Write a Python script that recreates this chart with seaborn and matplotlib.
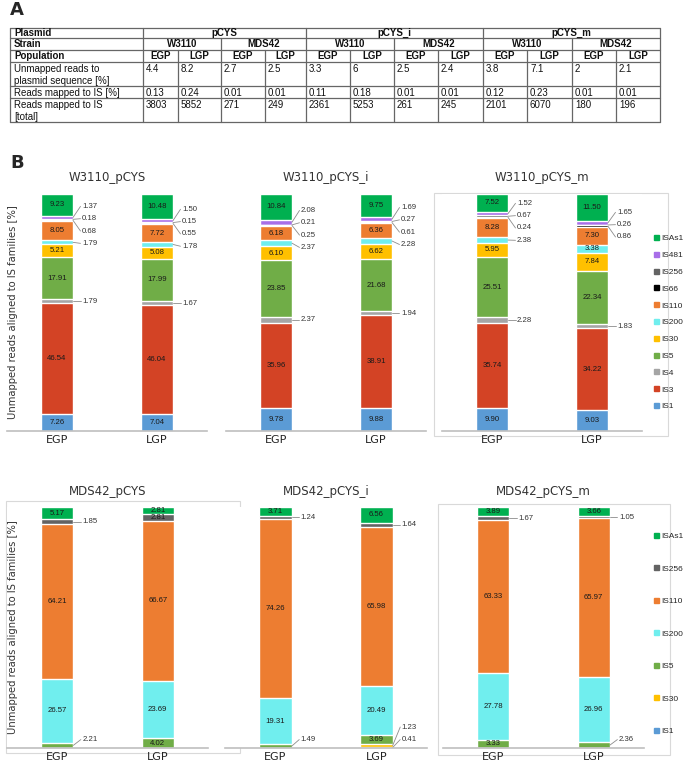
import numpy as np
import pandas as pd
import matplotlib
matplotlib.use('Agg')
import matplotlib.pyplot as plt
import seaborn as sns
from matplotlib.patches import Patch, Rectangle

# ---- Table (panel A) ----
plasmids = ['pCYS', 'pCYS_i', 'pCYS_m']
strains = ['W3110', 'MDS42']
populations = ['EGP', 'LGP']
row_names = ['Unmapped reads to\nplasmid sequence [%]', 'Reads mapped to IS [%]', 'Reads mapped to IS\n[total]']
unmapped_pct = [4.4, 8.2, 2.7, 2.5, 3.3, 6, 2.5, 2.4, 3.8, 7.1, 2, 2.1]
is_pct = [0.13, 0.24, 0.01, 0.01, 0.11, 0.18, 0.01, 0.01, 0.12, 0.23, 0.01, 0.01]
is_total = [3803, 5852, 271, 249, 2361, 5253, 261, 245, 2101, 6070, 180, 196]

# ---- Stacked bars (panel B), bottom -> top ----
w3110_families = ['IS1', 'IS3', 'IS4', 'IS5', 'IS30', 'IS200', 'IS110', 'IS66', 'IS256', 'IS481', 'ISAs1']
w3110_pcys_egp = [7.26, 46.54, 1.79, 17.91, 5.21, 1.79, 8.05, 0.68, 0.18, 1.37, 9.23]
w3110_pcys_lgp = [7.04, 46.04, 1.67, 17.99, 5.08, 1.78, 7.72, 0.55, 0.15, 1.50, 10.48]
w3110_pcys_i_egp = [9.78, 35.96, 2.37, 23.85, 6.10, 2.37, 6.18, 0.25, 0.21, 2.08, 10.84]
w3110_pcys_i_lgp = [9.88, 38.91, 1.94, 21.68, 6.62, 2.28, 6.36, 0.61, 0.27, 1.69, 9.75]
w3110_pcys_m_egp = [9.90, 35.74, 2.28, 25.51, 5.95, 2.38, 8.28, 0.24, 0.67, 1.52, 7.52]
w3110_pcys_m_lgp = [9.03, 34.22, 1.83, 22.34, 7.84, 3.38, 7.30, 0.86, 0.26, 1.65, 11.50]

mds42_families = ['IS1', 'IS30', 'IS5', 'IS200', 'IS110', 'IS256', 'ISAs1']
mds42_pcys_egp = [0, 0, 2.21, 26.57, 64.21, 1.85, 5.17]
mds42_pcys_lgp = [0, 0, 4.02, 23.69, 66.67, 2.81, 2.81]
mds42_pcys_i_egp = [0, 0, 1.49, 19.31, 74.26, 1.24, 3.71]
mds42_pcys_i_lgp = [0.41, 1.23, 3.69, 20.49, 65.98, 1.64, 6.56]
mds42_pcys_m_egp = [0, 0, 3.33, 27.78, 63.33, 1.67, 3.89]
mds42_pcys_m_lgp = [0, 0, 2.36, 26.96, 65.97, 1.05, 3.66]

palette = {'IS1': '#5B9BD5', 'IS3': '#D34325', 'IS4': '#A5A5A5', 'IS5': '#70AD47',
           'IS30': '#FFC000', 'IS200': '#70EEEE', 'IS110': '#ED7D31', 'IS66': '#000000',
           'IS256': '#636363', 'IS481': '#A86EE8', 'ISAs1': '#00B050'}

sns.set_style('white')
plt.rcParams['font.family'] = ['DejaVu Sans']
NUM_FONT = 'Liberation Sans'

W, H = 685, 765
fig = plt.figure(figsize=(W / 100, H / 100), dpi=100)

# overlay axes in pixel coordinates for table, panel letters and chart-area boxes
ov = fig.add_axes([0, 0, 1, 1])
ov.set_xlim(0, W)
ov.set_ylim(H, 0)
ov.axis('off')

ov.text(10, 10, 'A', fontsize=13, fontweight='bold', va='center', ha='left')
ov.text(10, 163, 'B', fontsize=13, fontweight='bold', va='center', ha='left')

col_x = [10, 143, 178, 221, 265, 306, 350, 394, 438, 483, 527, 572, 616, 660]
row_y = [28, 38, 50, 62, 86, 98, 122]
lc = '#666666'
for y in row_y:
    ov.plot([col_x[0], col_x[-1]], [y, y], color=lc, lw=0.9)
for i, x in enumerate(col_x):
    k = i - 1
    if i in (0, 1, len(col_x) - 1) or (k > 0 and k % 4 == 0):
        y0 = row_y[0]
    elif k % 2 == 0:
        y0 = row_y[1]
    else:
        y0 = row_y[2]
    ov.plot([x, x], [y0, row_y[-1]], color=lc, lw=0.9)

tkw = dict(fontsize=7, family=NUM_FONT, color='#111111')
for r, lab in enumerate(['Plasmid', 'Strain', 'Population']):
    ov.text(col_x[0] + 4, (row_y[r] + row_y[r + 1]) / 2, lab, va='center', fontweight='bold', **tkw)
for p, name in enumerate(plasmids):
    ov.text((col_x[1 + 4 * p] + col_x[5 + 4 * p]) / 2, (row_y[0] + row_y[1]) / 2, name,
            ha='center', va='center', fontweight='bold', **tkw)
    for s, st in enumerate(strains):
        c0 = 1 + 4 * p + 2 * s
        ov.text((col_x[c0] + col_x[c0 + 2]) / 2, (row_y[1] + row_y[2]) / 2, st,
                ha='center', va='center', fontweight='bold', **tkw)
        for q, pop in enumerate(populations):
            c = c0 + q
            ov.text((col_x[c] + col_x[c + 1]) / 2, (row_y[2] + row_y[3]) / 2, pop,
                    ha='center', va='center', fontweight='bold', **tkw)
for r, (lab, vals) in enumerate(zip(row_names, [unmapped_pct, is_pct, is_total])):
    top = row_y[3 + r] + 1.5
    ov.text(col_x[0] + 4, top, lab, va='top', linespacing=1.25, **tkw)
    for c, v in enumerate(vals):
        ov.text(col_x[c + 1] + 3, top, f'{v:g}', va='top', **tkw)

# faint chart-area borders
for (x0, y0, x1, y1) in [(434, 193, 668, 436), (6, 501, 240, 753), (438, 504, 670, 755)]:
    ov.add_patch(Rectangle((x0, y0), x1 - x0, y1 - y0, fill=False, ec='#D9D9D9', lw=0.8))


def px_axes(x0, y0, x1, y1):
    return fig.add_axes([x0 / W, 1 - y1 / H, (x1 - x0) / W, (y1 - y0) / H])


def spread(targets, gap=5.2, lo=3.5, hi=97.5):
    pos = list(targets)
    for _ in range(300):
        for i in range(len(pos) - 1):
            d = pos[i + 1] - pos[i]
            if d < gap:
                pos[i] -= (gap - d) / 2
                pos[i + 1] += (gap - d) / 2
        pos[0] = max(pos[0], lo)
        pos[-1] = min(pos[-1], hi)
    return pos


def draw_panel(ax, title, families, egp, lgp):
    df = pd.DataFrame({'EGP': egp, 'LGP': lgp}, index=families)
    cum = df.cumsum()
    # stacked bars: draw cumulative totals from the top layer down
    for fam in reversed(families):
        sns.barplot(x=populations, y=cum.loc[fam].values, color=palette[fam], width=0.32,
                    saturation=1, errorbar=None, ax=ax)
    half = 0.16
    for j, pop in enumerate(populations):
        vals = df[pop].values
        mids = (cum[pop].values - vals / 2)
        outside = []
        for v, m in zip(vals, mids):
            if v >= 2.5:
                ax.text(j, m, f'{v:.2f}', ha='center', va='center', fontsize=5.6,
                        family=NUM_FONT, color='#1A1A1A')
            elif v > 0:
                outside.append((m, v))
        outside.sort()
        if outside:
            ys = spread([m for m, _ in outside])
            for (m, v), ly in zip(outside, ys):
                xt = j + half + 0.09
                ax.plot([j + half, xt - 0.015], [m, ly], color='#8C8C8C', lw=0.6, clip_on=False)
                ax.text(xt, ly, f'{v:.2f}', ha='left', va='center', fontsize=5.6,
                        family=NUM_FONT, color='#333333', clip_on=False)
    ax.set_xlim(-0.5, 1.5)
    ax.set_ylim(0, 100)
    ax.set_yticks([])
    ax.set_xlabel('')
    ax.set_ylabel('')
    for s in ['top', 'left', 'right']:
        ax.spines[s].set_visible(False)
    ax.spines['bottom'].set_color('#BFBFBF')
    ax.spines['bottom'].set_linewidth(1.2)
    ax.tick_params(axis='x', length=0, pad=3, labelsize=8, labelcolor='#222222')
    ax.set_title(title, fontsize=8.5, pad=9, color='#333333')


top_panels = [('W3110_pCYS', w3110_pcys_egp, w3110_pcys_lgp),
              ('W3110_pCYS_i', w3110_pcys_i_egp, w3110_pcys_i_lgp),
              ('W3110_pCYS_m', w3110_pcys_m_egp, w3110_pcys_m_lgp)]
bottom_panels = [('MDS42_pCYS', mds42_pcys_egp, mds42_pcys_lgp),
                 ('MDS42_pCYS_i', mds42_pcys_i_egp, mds42_pcys_i_lgp),
                 ('MDS42_pCYS_m', mds42_pcys_m_egp, mds42_pcys_m_lgp)]
top_x = [(7, 207), (226, 426), (442, 642)]
bottom_x = [(7, 208), (225, 427), (443, 644)]

for row, (panels, xs, (yt, yb), fams) in enumerate([
        (top_panels, top_x, (194, 431), w3110_families),
        (bottom_panels, bottom_x, (507, 748), mds42_families)]):
    for i, ((title, egp, lgp), (x0, x1)) in enumerate(zip(panels, xs)):
        ax = px_axes(x0, yt, x1, yb)
        ax.set_facecolor('white')
        draw_panel(ax, title, fams, egp, lgp)
        if i == 0:
            ax.set_ylabel('Unmapped reads aligned to IS families [%]', fontsize=7.2, color='#333333')
            ax.yaxis.set_label_coords((18 - x0) / (x1 - x0), 0.5)

    handles = [Patch(color=palette[f], label=f) for f in reversed(fams)]
    leg_top = 235 if row == 0 else 533
    fig.legend(handles=handles, loc='upper left', bbox_to_anchor=(654 / W, 1 - leg_top / H),
               frameon=False, prop={'family': NUM_FONT, 'size': 6}, handlelength=0.55,
               handleheight=0.55, handletextpad=0.3, borderpad=0, borderaxespad=0,
               labelspacing=1.12 if row == 0 else 3.0)

fig.savefig('out.png', dpi=100)
